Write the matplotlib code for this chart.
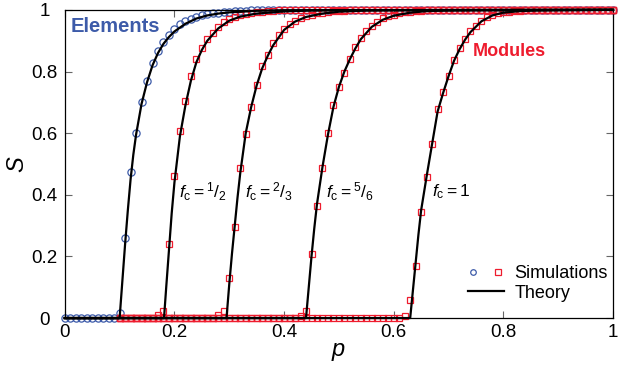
import numpy as np
import matplotlib
matplotlib.use('Agg')
import matplotlib.pyplot as plt
from matplotlib.lines import Line2D
from matplotlib.legend_handler import HandlerTuple

plt.rcParams['font.family'] = ['Liberation Sans', 'DejaVu Sans']
plt.rcParams['mathtext.fontset'] = 'custom'
plt.rcParams['mathtext.rm'] = 'Liberation Sans'
plt.rcParams['mathtext.it'] = 'Liberation Sans:italic'
plt.rcParams['mathtext.bf'] = 'Liberation Sans:bold'

# simulations, elements (p = 0 .. 1, step 0.01)
p_elem = np.round(np.linspace(0, 1, 101), 2)
S_elem_head = [0.0] * 10 + [0.017, 0.26, 0.475, 0.602, 0.702, 0.769, 0.827, 0.867, 0.895, 0.919,
                            0.937, 0.953, 0.965, 0.972, 0.978, 0.983, 0.987, 0.989, 0.991, 0.993,
                            0.994, 0.995, 0.996, 0.997, 0.998, 0.998, 0.999, 0.999]
S_elem = S_elem_head + [1.0] * (len(p_elem) - len(S_elem_head))

# simulations, modules (p = 0.10 .. 1, step 0.01)
p_mod = np.round(np.linspace(0.1, 1, 91), 2)
S_half_head = [0.0] * 7 + [0.01, 0.024, 0.24, 0.46, 0.607, 0.705, 0.786, 0.841, 0.876, 0.906,
                           0.926, 0.946, 0.96, 0.97, 0.978, 0.983, 0.987, 0.99, 0.992, 0.994,
                           0.996, 0.997, 0.998, 0.999]
S_23_head = [0.0] * 18 + [0.01, 0.024, 0.13, 0.295, 0.487, 0.597, 0.686, 0.756, 0.819, 0.854,
                          0.892, 0.919, 0.937, 0.955, 0.965, 0.975, 0.98, 0.985, 0.989, 0.991,
                          0.993, 0.995, 0.996, 0.997, 0.998, 0.999]
S_56_head = [0.0] * 33 + [0.008, 0.023, 0.207, 0.364, 0.486, 0.60, 0.69, 0.749, 0.794, 0.84,
                          0.878, 0.908, 0.93, 0.948, 0.962, 0.973, 0.98, 0.985, 0.989, 0.992,
                          0.994, 0.996, 0.997, 0.998, 0.999]
S_1_head = [0.0] * 52 + [0.007, 0.06, 0.169, 0.343, 0.459, 0.565, 0.679, 0.733, 0.787, 0.838,
                         0.876, 0.905, 0.93, 0.949, 0.965, 0.976, 0.984, 0.989, 0.992, 0.994,
                         0.996, 0.997, 0.998, 0.999]
S_mod = [h + [1.0] * (len(p_mod) - len(h)) for h in (S_half_head, S_23_head, S_56_head, S_1_head)]

# theory curves
th_elem_p = [0, 0.1, 0.105, 0.11, 0.115, 0.12, 0.125, 0.13, 0.14, 0.15, 0.16, 0.17, 0.18, 0.19,
             0.2, 0.22, 0.24, 0.26, 0.28, 0.3, 0.35, 0.4, 1.0]
th_elem_S = [0, 0, 0.12, 0.24, 0.35, 0.45, 0.53, 0.595, 0.695, 0.765, 0.82, 0.86, 0.89, 0.912,
             0.93, 0.955, 0.972, 0.982, 0.988, 0.992, 0.997, 0.999, 1.0]

th_half_p = [0, 0.181, 0.185, 0.19, 0.195, 0.2, 0.21, 0.22, 0.23, 0.24, 0.25, 0.26, 0.28, 0.3,
             0.32, 0.35, 0.4, 0.45, 0.5, 1.0]
th_half_S = [0, 0, 0.1, 0.22, 0.34, 0.44, 0.59, 0.69, 0.77, 0.83, 0.87, 0.9, 0.94, 0.965,
             0.978, 0.988, 0.995, 0.998, 0.999, 1.0]

th_23_p = [0, 0.295, 0.3, 0.305, 0.31, 0.315, 0.32, 0.33, 0.34, 0.35, 0.36, 0.37, 0.38, 0.4,
           0.42, 0.44, 0.47, 0.5, 0.55, 0.6, 1.0]
th_23_S = [0, 0, 0.11, 0.21, 0.3, 0.39, 0.47, 0.6, 0.685, 0.755, 0.81, 0.85, 0.885, 0.935,
           0.962, 0.977, 0.988, 0.994, 0.998, 0.999, 1.0]

th_56_p = [0, 0.44, 0.445, 0.45, 0.455, 0.46, 0.47, 0.48, 0.49, 0.5, 0.51, 0.52, 0.53, 0.54,
           0.56, 0.58, 0.6, 0.63, 0.66, 0.7, 0.75, 1.0]
th_56_S = [0, 0, 0.1, 0.2, 0.29, 0.37, 0.49, 0.595, 0.685, 0.75, 0.8, 0.84, 0.875, 0.905,
           0.945, 0.968, 0.981, 0.991, 0.996, 0.998, 0.999, 1.0]

th_1_p = [0, 0.63, 0.635, 0.64, 0.645, 0.65, 0.66, 0.67, 0.68, 0.69, 0.7, 0.71, 0.72, 0.73,
          0.74, 0.76, 0.78, 0.8, 0.83, 0.86, 0.9, 1.0]
th_1_S = [0, 0, 0.09, 0.18, 0.27, 0.35, 0.46, 0.565, 0.67, 0.73, 0.785, 0.835, 0.872, 0.903,
          0.928, 0.963, 0.982, 0.991, 0.996, 0.998, 0.999, 1.0]

fc_labels = [r'$f_{\mathrm{c}} = {}^{1}/_{2}$', r'$f_{\mathrm{c}} = {}^{2}/_{3}$',
             r'$f_{\mathrm{c}} = {}^{5}/_{6}$', r'$f_{\mathrm{c}} = 1$']
fc_label_x = [0.209, 0.328, 0.476, 0.67]

tick_vals = [0, 0.2, 0.4, 0.6, 0.8, 1]
tick_text = ['0', '0.2', '0.4', '0.6', '0.8', '1']

blue = '#3d5ba9'
red = '#ee1c2e'

fig = plt.figure(figsize=(6.23, 3.66), dpi=100)
ax = fig.add_axes([0.104, 0.131, 0.880, 0.842])

ax.plot(p_elem, S_elem, 'o', ms=5.2, mfc='none', mec=blue, mew=0.9, clip_on=False, zorder=2)
for S in S_mod:
    ax.plot(p_mod, S, 's', ms=4.8, mfc='none', mec=red, mew=0.9, clip_on=False, zorder=3)

for tp, ts in [(th_elem_p, th_elem_S), (th_half_p, th_half_S), (th_23_p, th_23_S),
               (th_56_p, th_56_S), (th_1_p, th_1_S)]:
    ax.plot(tp, ts, '-', color='black', lw=1.6, clip_on=False, zorder=4)

for lab, x in zip(fc_labels, fc_label_x):
    ax.text(x, 0.41, lab, fontsize=12.5, ha='left', va='center')

ax.text(0.01, 0.945, 'Elements', color=blue, fontsize=14.5, fontweight='bold', va='center')
ax.text(0.745, 0.865, 'Modules', color=red, fontsize=13, fontweight='bold', va='center')

ax.set_xlim(0, 1)
ax.set_ylim(0, 1)
ax.set_xticks(tick_vals)
ax.set_xticklabels(tick_text)
ax.set_yticks(tick_vals)
ax.set_yticklabels(tick_text)
ax.tick_params(direction='in', top=True, right=True, length=5, width=0.8, color='#666666',
               labelsize=13.5)
ax.tick_params(axis='x', pad=4)
ax.tick_params(axis='y', pad=14.5)
for lab in ax.get_yticklabels():
    lab.set_horizontalalignment('center')
for sp in ax.spines.values():
    sp.set_linewidth(0.9)
ax.set_xlabel('$p$', fontsize=17, labelpad=0)
ax.set_ylabel('$S$', fontsize=17, labelpad=2)

h_sim = (Line2D([], [], marker='o', ls='', mfc='none', mec=blue, ms=4, mew=0.9),
         Line2D([], [], marker='s', ls='', mfc='none', mec=red, ms=4, mew=0.9))
h_th = Line2D([], [], color='black', lw=1.6)
ax.legend([h_sim, h_th], ['Simulations', 'Theory'], loc='lower right',
          bbox_to_anchor=(1.004, 0.03), frameon=False,
          fontsize=13, handler_map={tuple: HandlerTuple(ndivide=None, pad=0.8)},
          handlelength=2.0, handletextpad=0.6, labelspacing=0.15, borderaxespad=0.0)

fig.savefig('out.png', dpi=100)
